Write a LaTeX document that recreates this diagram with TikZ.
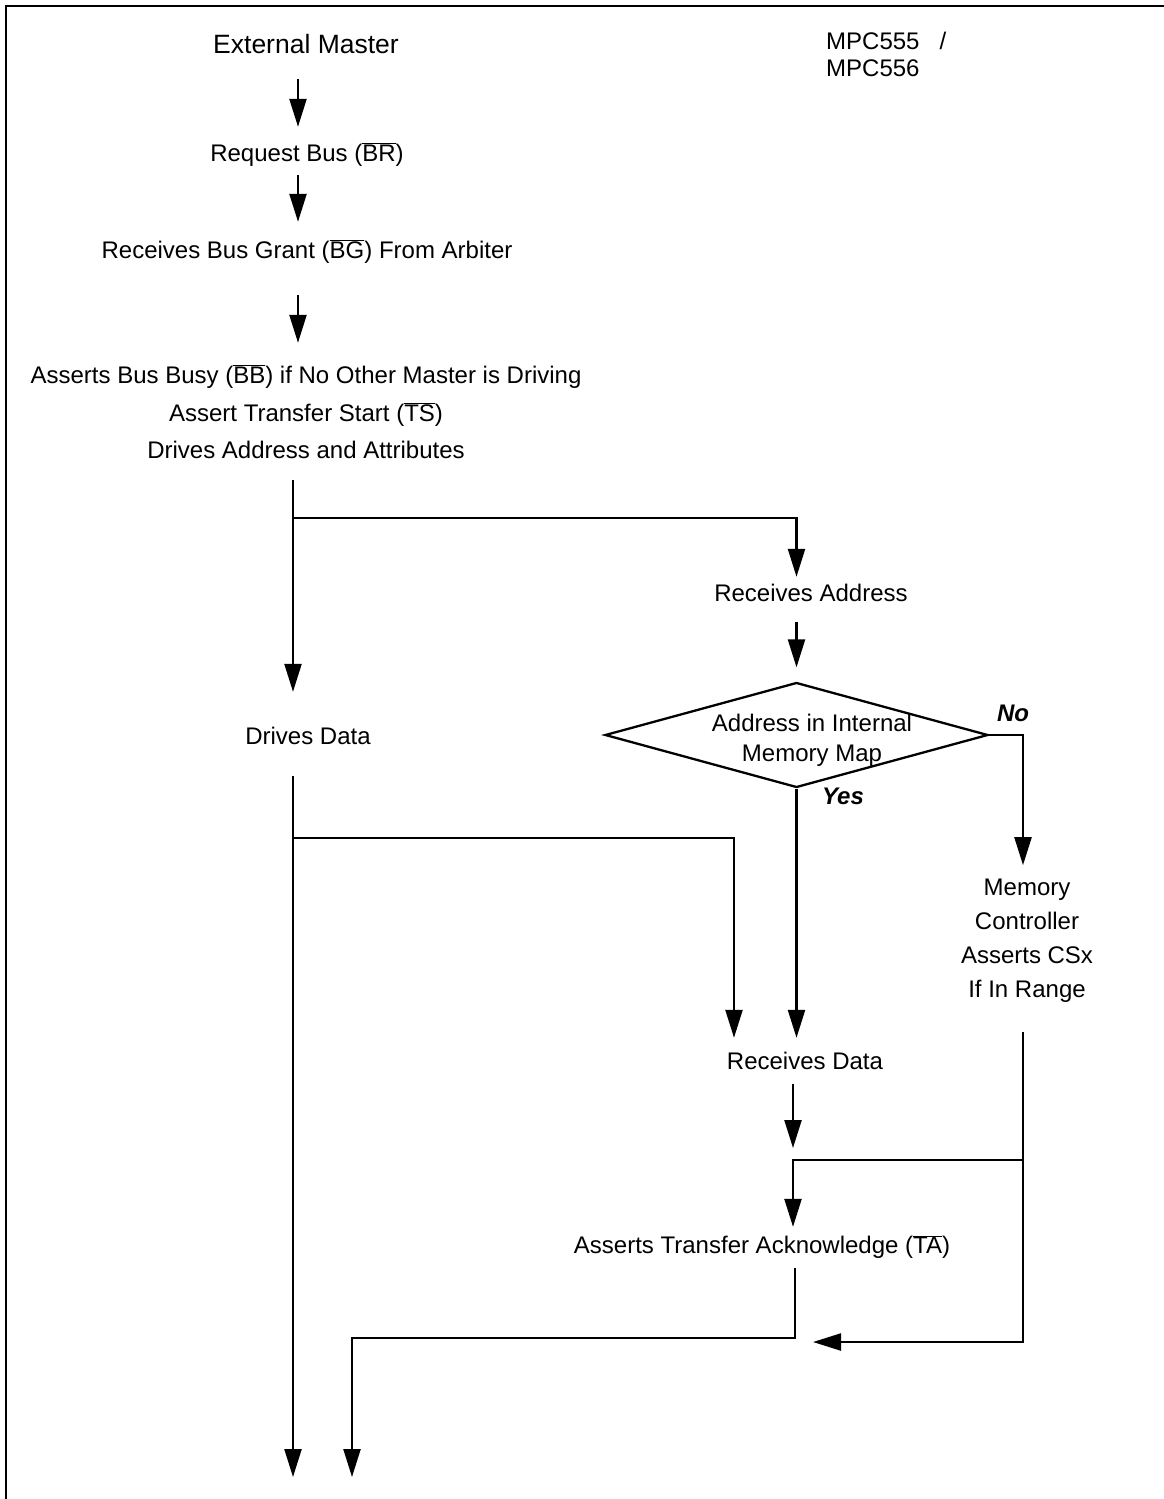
\documentclass[tikz,border=0pt]{standalone}
\usepackage{fontspec}
\setmainfont{Liberation Sans}
\usetikzlibrary{arrows.meta,shapes.geometric}
\newcommand{\ovl}[1]{$\overline{\hbox{#1}}$}

\begin{document}
\begin{tikzpicture}[
  x=10pt, y=-10pt,
  font=\fontsize{24}{30}\selectfont,
  lbl/.style={inner sep=0pt, text height=20pt, text depth=2.8pt},
  blk/.style={inner sep=0pt, align=center},
  ans/.style={lbl, font=\fontsize{24}{30}\selectfont\bfseries\itshape},
  wire/.style={line width=2.3pt},
  arr/.style={wire, -{Triangle[length=28pt, width=17pt]}},
  dec/.style={diamond, draw, line width=2.3pt, inner sep=0pt,
    minimum width=383pt, minimum height=105pt},
]
\useasboundingbox (0,0) rectangle (116.4,149.9);

% frame (open to the right and bottom)
\draw[line width=2.2pt] (0.6,149.9) -- (0.6,0.63) -- (116.4,0.63);

% master side
\node[lbl, font=\fontsize{26.5}{30}\selectfont] (ext) at (30.6,4.5) {External Master};
\node[blk, font=\fontsize{24}{27}\selectfont, align=left, anchor=west] (mpc) at (82.6,5.45) {MPC555~~~/\\MPC556};
\node[lbl] (req) at (30.7,15.3) {Request Bus (\ovl{BR})};
\node[lbl] (rbg) at (30.7,25.0) {Receives Bus Grant (\ovl{BG}) From Arbiter};
\node[lbl] (asrt) at (30.6,37.5) {Asserts Bus Busy (\ovl{BB}) if No Other Master is Driving};
\node[lbl] (tstart) at (30.6,41.3) {Assert Transfer Start (\ovl{TS})};
\node[lbl] (addr) at (30.6,45.0) {Drives Address and Attributes};
\node[lbl] (dd) at (30.8,73.6) {Drives Data};

% slave side
\node[lbl] (ra) at (81.1,59.3) {Receives Address};
\node[dec] (dec) at (79.65,73.5) {};
\node[blk] (dectxt) at (81.2,74.03) {Address in Internal\\Memory Map};
\node[ans] (no) at (101.3,71.3) {No};
\node[ans] (yes) at (84.3,79.6) {Yes};
\node[blk, font=\fontsize{24}{34}\selectfont] (mem) at (102.7,94.05) {Memory\\Controller\\Asserts CSx\\If In Range};
\node[lbl] (rd) at (80.5,106.1) {Receives Data};
\node[lbl] (ta) at (76.2,124.5) {Asserts Transfer Acknowledge (\ovl{TA})};

% columns and junctions
\coordinate (spine) at (29.8,0);
\coordinate (lane) at (29.3,0);
\coordinate (colD) at (73.4,0);
\coordinate (colRD) at (79.3,0);
\coordinate (colT) at (79.5,0);
\coordinate (colM) at (102.3,0);
\coordinate (j1) at (29.3,51.8);
\coordinate (j2) at (29.3,83.8);
\coordinate (j3) at (79.3,116.0);
\coordinate (j4) at (35.2,133.8);
\coordinate (merge) at (81.3,134.2);
\coordinate (exitL) at (29.3,147.7);
\coordinate (exitR) at (35.2,147.7);

% bus request
\draw[arr, shorten <=22.6pt, shorten >=14.6pt] (ext.south -| spine) -- (req.north -| spine);
\draw[arr, shorten <=10.6pt, shorten >=16.6pt] (req.south -| spine) -- (rbg.north -| spine);
\draw[arr, shorten <=33.6pt, shorten >=20.6pt] (rbg.south -| spine) -- (asrt.north -| spine);

% address phase
\draw[arr, shorten <=18.2pt, shorten >=32.6pt] (addr.south -| lane) -- (dd.north -| lane);
\draw[arr, shorten >=4.6pt] (j1) -| (ra.north -| dec.north);
\draw[arr, shorten <=17.6pt, shorten >=14pt] (ra.south -| dec.north) -- (dec.north);
\draw[arr, shorten >=13.4pt] (dec.east) -| (mem.north -| colM);
\draw[arr, shorten >=11.6pt] (dec.south) -- (rd.north -| dec.south);

% data phase
\draw[arr, shorten <=28.6pt] (dd.south -| lane) -- (exitL);
\draw[arr, shorten >=11.6pt] (j2) -| (rd.north -| colD);
\draw[arr, shorten <=11.6pt, shorten >=12pt] (rd.south -| colRD) -- (j3);
\draw[arr, shorten >=6.6pt] (j3 -| colM) -- (j3) -- (ta.north -| colRD);
\draw[arr, shorten <=30pt] (mem.south -| colM) |- (merge);
\draw[arr, shorten <=11.6pt] (ta.south -| colT) |- (j4) -- (exitR);

\end{tikzpicture}
\end{document}
